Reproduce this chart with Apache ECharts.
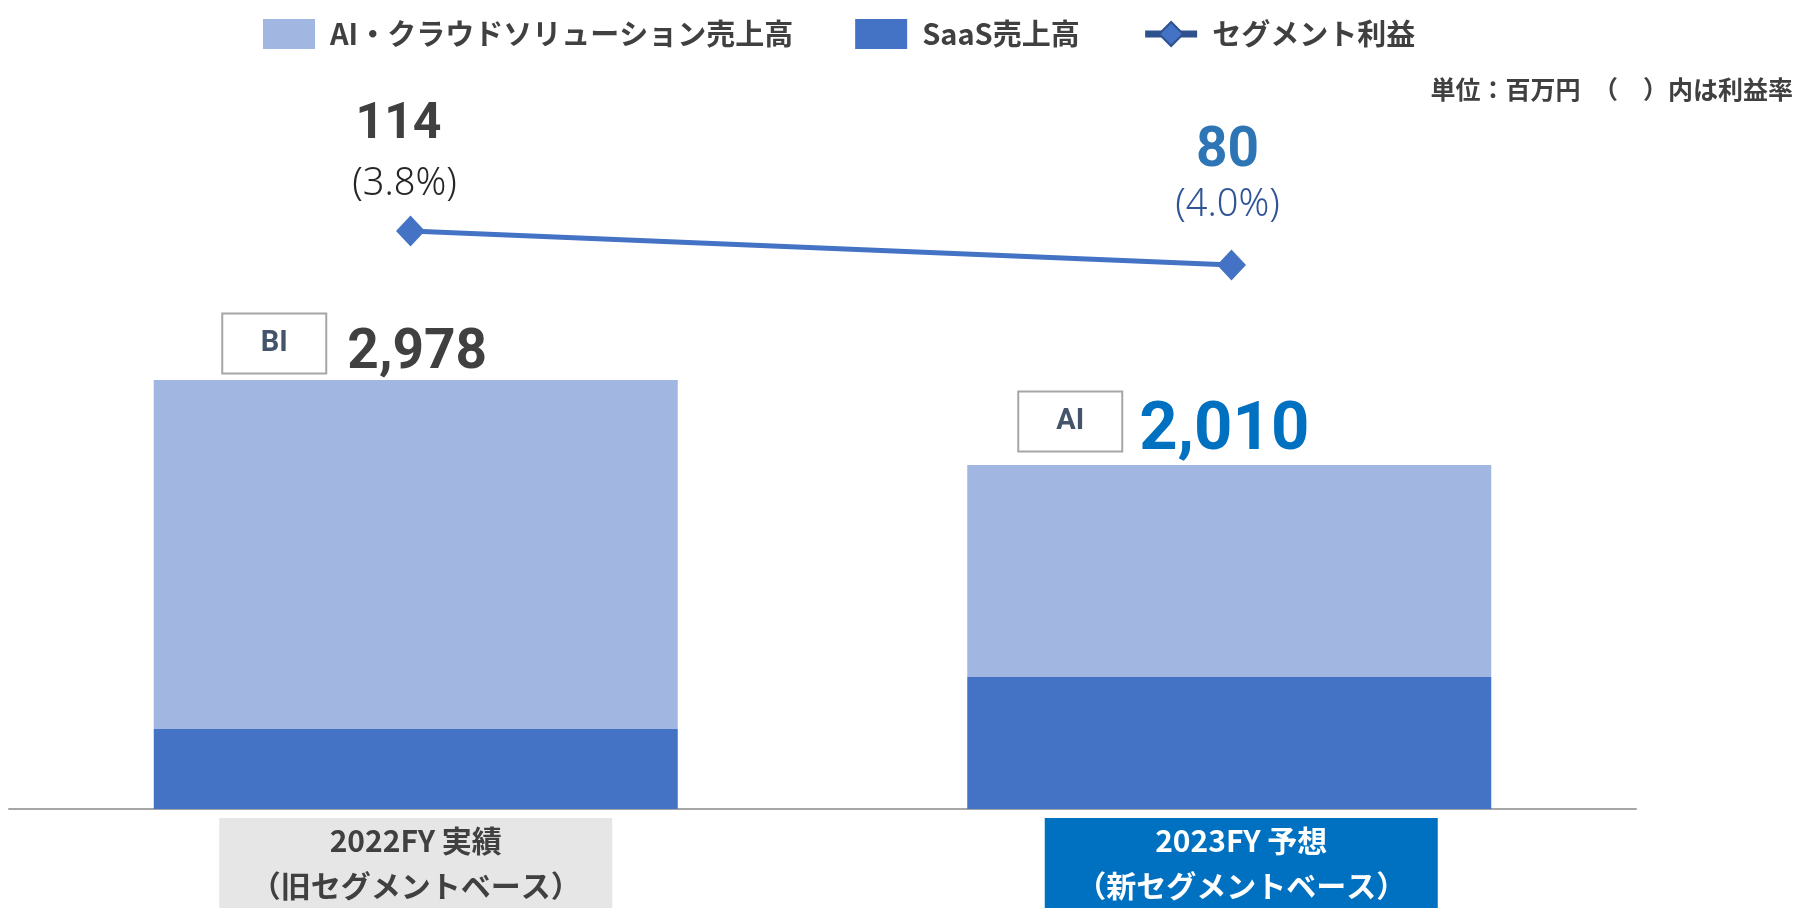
<!DOCTYPE html>
<html>
<head>
<meta charset="utf-8">
<script src="https://cdn.jsdelivr.net/npm/echarts@6/dist/echarts.min.js"></script>
<style>
html, body { margin: 0; padding: 0; background: #fff; }
#main { width: 1804px; height: 909px; }
</style>
</head>
<body>
<div id="main"></div>
<script>
var categories = ['2022FY 実績\n（旧セグメントベース）', '2023FY 予想\n（新セグメントベース）'];
var aiSales = [2423, 1472];      // AI・クラウドソリューション売上高
var saasSales = [555, 916];      // SaaS売上高
var salesLabels = ['2,978', '2,010'];
var segTags = ['BI', 'AI'];
var profit = [114, 80];
var profitRate = ['(3.8%)', '(4.0%)'];

var jp = '"Noto Sans CJK JP", sans-serif';

var chart = echarts.init(document.getElementById('main'));

// ラベル位置の微調整 (棒ごと)
var barLabelOffset = [[-52, 0], [-64, 0]];
var barLabelDist = [-2, -1];
var numStyle = ['n1', 'n2'];
var gapStyle = ['g1', 'g2'];
var lineLabelDist = [8, 21];
var lineLabelOffset = [[-6, 0], [-4, 0]];
var valStyle = ['v1', 'v2'];
var rateStyle = ['p1', 'p2'];

var aiData = aiSales.map(function (v, i) {
    return {
        value: v,
        label: {
            show: true,
            position: 'top',
            distance: barLabelDist[i],
            offset: barLabelOffset[i],
            formatter: '{box|' + segTags[i] + '}{' + gapStyle[i] + '| }{' + numStyle[i] + '|' + salesLabels[i] + '}'
        }
    };
});

var profitData = profit.map(function (v, i) {
    return {
        value: v,
        label: {
            show: true,
            position: 'top',
            distance: lineLabelDist[i],
            offset: lineLabelOffset[i],
            formatter: '{' + valStyle[i] + '|' + v + '}\n{' + rateStyle[i] + '|' + profitRate[i] + '}'
        }
    };
});

var option = {
    animation: false,
    title: {
        text: '単位：百万円　（　）内は利益率',
        right: 6,
        top: 72,
        textStyle: { fontFamily: jp, fontSize: 25, fontWeight: 'bold', color: '#404040' }
    },
    legend: {
        left: 258,
        top: 14,
        itemWidth: 52,
        itemHeight: 30,
        itemGap: 62,
        textStyle: {
            fontFamily: jp, fontSize: 29, fontWeight: 'bold', color: '#404040',
            padding: [0, 0, 0, 10]
        },
        data: [
            { name: 'AI・クラウドソリューション売上高', icon: 'rect' },
            { name: 'SaaS売上高', icon: 'rect' },
            { name: 'セグメント利益',
              itemStyle: { color: '#4472C4', borderColor: '#2F528F', borderWidth: 2 },
              lineStyle: { color: '#2F528F', width: 7 } }
        ]
    },
    grid: [
        { left: 9, right: 168, top: 80, bottom: 100 },
        { left: -10, right: 162, top: 80, bottom: 100 }
    ],
    xAxis: [{
        type: 'category',
        gridIndex: 0,
        data: categories,
        axisLine: { lineStyle: { color: '#A6A6A6', width: 2 } },
        axisTick: { show: false },
        axisLabel: {
            interval: 0,
            margin: 9,
            formatter: function (value, idx) {
                var tag = idx === 0 ? 'g' : 'b';
                var pre = idx === 0 ? '' : '{sp| }';
                return value.split('\n').map(function (l) {
                    return pre + '{' + tag + '|' + l + '}';
                }).join('\n');
            },
            rich: {
                g: { width: 393, height: 45, lineHeight: 45, align: 'center',
                     backgroundColor: '#E7E6E6', color: '#404040',
                     fontFamily: jp, fontSize: 30, fontWeight: 'bold' },
                b: { width: 393, height: 45, lineHeight: 45, align: 'center',
                     backgroundColor: '#0070C0', color: '#ffffff',
                     fontFamily: jp, fontSize: 30, fontWeight: 'bold' },
                sp: { width: 24 }
            }
        }
    }, {
        type: 'category',
        gridIndex: 1,
        data: categories,
        show: false
    }],
    yAxis: [
        { type: 'value', gridIndex: 0, min: 0, max: 5060, show: false, splitLine: { show: false } },
        { type: 'value', gridIndex: 1, min: -464, max: 265, show: false, splitLine: { show: false } }
    ],
    series: [
        {
            name: 'SaaS売上高',
            type: 'bar',
            stack: 'sales',
            barWidth: 524,
            itemStyle: { color: '#4472C4' },
            data: saasSales
        },
        {
            name: 'AI・クラウドソリューション売上高',
            type: 'bar',
            stack: 'sales',
            barWidth: 524,
            itemStyle: { color: '#A1B7E1' },
            label: {
                rich: {
                    box: { width: 104, height: 60, lineHeight: 60, align: 'center', verticalAlign: 'middle',
                           borderColor: '#A6A6A6', borderWidth: 2,
                           color: '#44546A', fontFamily: 'Roboto', fontSize: 29, fontWeight: 'bold' },
                    g1: { width: 3 },
                    g2: { width: 14 },
                    n1: { width: 176, align: 'left', verticalAlign: 'middle', padding: [22, 0, 0, 0],
                          fontFamily: 'Roboto', fontSize: 55, fontWeight: 'bold', color: '#404040' },
                    n2: { width: 176, align: 'left', verticalAlign: 'middle', padding: [22, 0, 0, 0],
                          fontFamily: 'Roboto', fontSize: 67, fontWeight: 'bold', color: '#0070C0' }
                }
            },
            data: aiData
        },
        {
            name: 'セグメント利益',
            type: 'line',
            xAxisIndex: 1,
            yAxisIndex: 1,
            z: 5,
            symbol: 'diamond',
            symbolSize: [29, 31],
            itemStyle: { color: '#4472C4' },
            lineStyle: { color: '#4472C4', width: 5 },
            label: {
                rich: {
                    v1: { fontFamily: 'Roboto', fontSize: 50, fontWeight: 'bold', color: '#404040', lineHeight: 73,
                          padding: [0, 12, 0, 0] },
                    v2: { fontFamily: 'Roboto', fontSize: 55, fontWeight: 'bold', color: '#2E75B6', lineHeight: 61 },
                    p1: { fontFamily: '"Noto Sans", sans-serif', fontSize: 38, fontWeight: 300, color: '#262626', lineHeight: 46 },
                    p2: { fontFamily: '"Noto Sans", sans-serif', fontSize: 38, fontWeight: 300, color: '#2F5597', lineHeight: 46 }
                }
            },
            data: profitData
        }
    ]
};

chart.setOption(option);
</script>
</body>
</html>
